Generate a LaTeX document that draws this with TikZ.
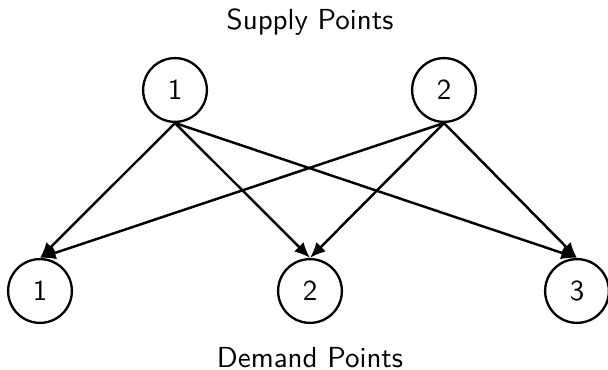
\documentclass[tikz,border=0pt]{standalone}
\usetikzlibrary{arrows.meta}
\begin{document}
\begin{tikzpicture}[x=0.345pt,y=-0.345pt,
  pt/.style={circle,draw,line width=0.8pt,minimum size=22pt,inner sep=0pt,font=\sffamily},
  lbl/.style={font=\sffamily,anchor=base},
  flow/.style={line width=0.85pt,-{Latex[length=5.4pt,width=4.6pt]}}]
\useasboundingbox (0,0) rectangle (608,370);
\node[lbl] (st) at (310,30) {Supply Points};
\node[lbl] (dt) at (310,368) {Demand Points};
\node[pt] (s1) at (175,90) {1};
\node[pt] (s2) at (444,90) {2};
\node[pt] (d1) at (40,291) {1};
\node[pt] (d2) at (310,291) {2};
\node[pt] (d3) at (577,291) {3};
\foreach \s in {s1,s2}
  \foreach \d in {d1,d2,d3}
    \draw[flow] (\s.south) -- (\d.north);
\end{tikzpicture}
\end{document}
